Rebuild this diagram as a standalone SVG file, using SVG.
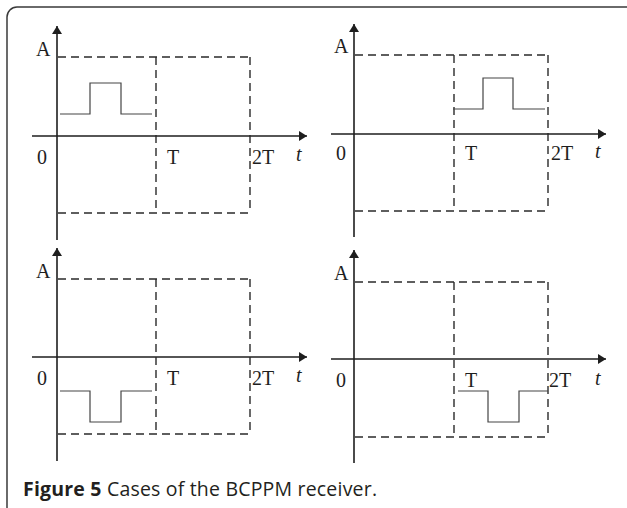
<svg xmlns="http://www.w3.org/2000/svg" width="627" height="508" viewBox="0 0 627 508">
<style>
.frame{fill:none;stroke:#3a3a3a;stroke-width:1.5}
.axis{fill:none;stroke:#1e1e1e;stroke-width:1.6}
.dash{fill:none;stroke:#2a2a2a;stroke-width:1.4;stroke-dasharray:8 5}
.pulse{fill:none;stroke:#444;stroke-width:1.2}
.lbl{font-family:"Liberation Serif","Times New Roman",serif;font-size:20px;fill:#1e1e1e}
.it{font-style:italic}
.cap{font-family:"Open Sans","Liberation Sans",sans-serif;font-size:19.5px;fill:#231f20}
</style>
<defs>
<marker id="ah" viewBox="0 0 8 10" refX="8" refY="5" markerWidth="8" markerHeight="10" markerUnits="userSpaceOnUse" orient="auto">
<path d="M0,0 L8,5 L0,10 Z" fill="#1e1e1e"/>
</marker>
</defs>
<rect class="frame" x="7" y="7" width="630" height="510" rx="10"/>

<g id="panel1">
<g class="axes">
<line class="axis" x1="57" y1="240" x2="57" y2="26" marker-end="url(#ah)"/>
<line class="axis" x1="32" y1="136" x2="307" y2="136" marker-end="url(#ah)"/>
</g>
<path class="dash" d="M58,57 H250 M156,57 V213 M250,57 V213 M58,213 H250"/>
<path class="pulse" d="M60,114 H90 V83 H121 V114 H152"/>
<text class="lbl" x="36" y="56">A</text>
<text class="lbl" x="37" y="164">0</text>
<text class="lbl" x="167" y="164">T</text>
<text class="lbl" x="252" y="164">2T</text>
<text class="lbl it" x="296" y="161">t</text>
</g>

<g id="panel2">
<g class="axes">
<line class="axis" x1="354" y1="237" x2="354" y2="24" marker-end="url(#ah)"/>
<line class="axis" x1="331" y1="134" x2="606" y2="134" marker-end="url(#ah)"/>
</g>
<path class="dash" d="M355,55 H548 M454,55 V211 M548,55 V211 M355,211 H548"/>
<path class="pulse" d="M453,109 H483 V78 H513 V109 H545"/>
<text class="lbl" x="334" y="53">A</text>
<text class="lbl" x="336" y="160">0</text>
<text class="lbl" x="465" y="160">T</text>
<text class="lbl" x="551" y="160">2T</text>
<text class="lbl it" x="595" y="158">t</text>
</g>

<g id="panel3">
<g class="axes">
<line class="axis" x1="57" y1="461" x2="57" y2="248" marker-end="url(#ah)"/>
<line class="axis" x1="32" y1="357" x2="307" y2="357" marker-end="url(#ah)"/>
</g>
<path class="dash" d="M58,279 H250 M156,279 V434 M250,279 V434 M58,434 H250"/>
<path class="pulse" d="M60,391 H90 V422 H121 V391 H152"/>
<text class="lbl" x="36" y="278">A</text>
<text class="lbl" x="37" y="385">0</text>
<text class="lbl" x="167" y="385">T</text>
<text class="lbl" x="252" y="385">2T</text>
<text class="lbl it" x="296" y="382">t</text>
</g>

<g id="panel4">
<g class="axes">
<line class="axis" x1="354" y1="463" x2="354" y2="250" marker-end="url(#ah)"/>
<line class="axis" x1="331" y1="359" x2="606" y2="359" marker-end="url(#ah)"/>
</g>
<path class="dash" d="M355,282 H548 M454,282 V437 M548,282 V437 M355,437 H548"/>
<path class="pulse" d="M458,391 H488 V422 H519 V391 H548"/>
<text class="lbl" x="334" y="280">A</text>
<text class="lbl" x="336" y="387">0</text>
<text class="lbl" x="465" y="387">T</text>
<text class="lbl" x="549" y="387">2T</text>
<text class="lbl it" x="595" y="385">t</text>
</g>

<text class="cap" x="23" y="496" textLength="354" lengthAdjust="spacing"><tspan font-weight="bold">Figure 5</tspan> Cases of the BCPPM receiver.</text>
</svg>
